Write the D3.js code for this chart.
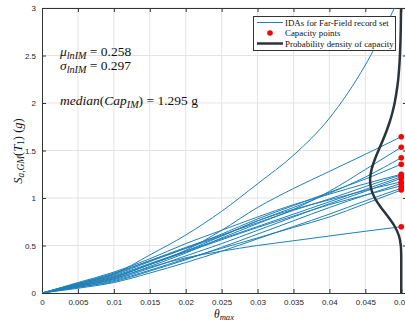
<!DOCTYPE html>
<html>
<head>
<meta charset="utf-8">
<script src="https://cdn.jsdelivr.net/npm/d3@7"></script>
<style>
  body { margin: 0; background: #fff; }
  svg { display: block; }
  .tick text { font-family: "Liberation Sans", Arial, sans-serif; font-size: 8px; fill: #262626; }
  .tex { font-family: "Liberation Serif", "Times New Roman", serif; fill: #111; }
</style>
</head>
<body>
<div id="chart"></div>
<script>
// theta_max grid shared by every IDA record
var thetaGrid = [0, 0.005, 0.01, 0.015, 0.02, 0.025, 0.03, 0.035, 0.04, 0.045, 0.05];

// Sa values of each IDA record at the theta grid
var idaRecords = [
  [0, 0.10, 0.20, 0.40, 0.61, 0.86, 1.15, 1.45, 1.84, 2.40, 3.15],
  [0, 0.08, 0.17, 0.30, 0.45, 0.66, 0.90, 1.10, 1.28, 1.46, 1.645],
  [0, 0.07, 0.15, 0.28, 0.42, 0.58, 0.73, 0.88, 1.07, 1.30, 1.534],
  [0, 0.08, 0.16, 0.30, 0.44, 0.60, 0.76, 0.90, 1.05, 1.22, 1.424],
  [0, 0.09, 0.19, 0.33, 0.47, 0.62, 0.78, 0.92, 1.06, 1.20, 1.355],
  [0, 0.11, 0.22, 0.36, 0.52, 0.66, 0.80, 0.93, 1.04, 1.15, 1.25],
  [0, 0.10, 0.20, 0.34, 0.48, 0.61, 0.74, 0.87, 0.99, 1.12, 1.242],
  [0, 0.09, 0.18, 0.31, 0.44, 0.57, 0.70, 0.83, 0.96, 1.09, 1.224],
  [0, 0.07, 0.14, 0.26, 0.39, 0.52, 0.66, 0.80, 0.94, 1.07, 1.207],
  [0, 0.10, 0.21, 0.34, 0.47, 0.60, 0.76, 0.88, 0.98, 1.08, 1.17],
  [0, 0.06, 0.12, 0.23, 0.35, 0.48, 0.62, 0.76, 0.90, 1.03, 1.154],
  [0, 0.08, 0.17, 0.30, 0.43, 0.56, 0.69, 0.81, 0.93, 1.03, 1.129],
  [0, 0.05, 0.11, 0.21, 0.32, 0.44, 0.57, 0.70, 0.83, 0.97, 1.102],
  [0, 0.06, 0.13, 0.24, 0.36, 0.47, 0.58, 0.69, 0.80, 0.94, 1.084],
  [0, 0.07, 0.15, 0.27, 0.37, 0.44, 0.50, 0.55, 0.60, 0.65, 0.698]
];

// capacity points (theta = 0.05)
var capTheta = 0.05;
var capacities = [1.645, 1.534, 1.424, 1.355, 1.25, 1.242, 1.224, 1.207, 1.17, 1.154, 1.129, 1.102, 1.084, 0.698];

// probability density of capacity, sampled along Sa
var densitySa  = [0, 0.3, 0.4, 0.5, 0.6, 0.7, 0.8, 0.9, 1.0, 1.1, 1.2, 1.3, 1.4, 1.5, 1.6, 1.7, 1.8, 1.9, 2.0, 2.2, 2.4, 2.6, 2.8, 3.0];
var densityVal = [0, 0, 0.0014, 0.016, 0.079, 0.225, 0.452, 0.706, 0.921, 1.051, 1.084, 1.033, 0.927, 0.792, 0.651, 0.519, 0.403, 0.307, 0.230, 0.124, 0.065, 0.033, 0.016, 0.008];

var xTicks = [0, 0.005, 0.01, 0.015, 0.02, 0.025, 0.03, 0.035, 0.04, 0.045, 0.05];
var yTicks = [0, 0.5, 1, 1.5, 2, 2.5, 3];

function main()
{
  var W = 405, H = 322;
  var left = 42, right = 407, top = 8, bottom = 293;

  var svg = d3.select("#chart").append("svg")
    .attr("width", W)
    .attr("height", H);

  var x = d3.scaleLinear().domain([0, 0.0508]).range([left, right]);
  var y = d3.scaleLinear().domain([0, 3]).range([bottom, top]);

  svg.append("defs").append("clipPath").attr("id", "plotclip")
    .append("rect")
    .attr("x", left).attr("y", top)
    .attr("width", right - left).attr("height", bottom - top);

  // grid
  var grid = svg.append("g");
  grid.selectAll(".gx").data(xTicks.slice(1)).enter().append("line")
    .attr("x1", d => x(d)).attr("x2", d => x(d))
    .attr("y1", top).attr("y2", bottom)
    .attr("stroke", "#e3e3e3").attr("stroke-width", 1);
  grid.selectAll(".gy").data(yTicks.slice(1)).enter().append("line")
    .attr("x1", left).attr("x2", right)
    .attr("y1", d => y(d)).attr("y2", d => y(d))
    .attr("stroke", "#e3e3e3").attr("stroke-width", 1);

  // axes (ticks inside, MATLAB style)
  var fmt = d => d === 0 ? "0" : String(d);
  svg.append("g")
    .attr("transform", "translate(0," + bottom + ")")
    .call(d3.axisBottom(x).tickValues(xTicks).tickFormat(fmt).tickSizeInner(-4).tickSizeOuter(0).tickPadding(6))
    .call(g => g.select(".domain").attr("stroke", "#333"))
    .call(g => g.selectAll(".tick line").attr("stroke", "#333"));
  svg.append("g")
    .attr("transform", "translate(0," + top + ")")
    .call(d3.axisTop(x).tickValues(xTicks).tickFormat("").tickSizeInner(-4).tickSizeOuter(0))
    .call(g => g.select(".domain").attr("stroke", "#333"))
    .call(g => g.selectAll(".tick line").attr("stroke", "#333"));
  svg.append("g")
    .attr("transform", "translate(" + left + ",0)")
    .call(d3.axisLeft(y).tickValues(yTicks).tickFormat(fmt).tickSizeInner(-4).tickSizeOuter(0).tickPadding(6))
    .call(g => g.select(".domain").attr("stroke", "#333"))
    .call(g => g.selectAll(".tick line").attr("stroke", "#333"));
  svg.append("g")
    .attr("transform", "translate(" + right + ",0)")
    .call(d3.axisRight(y).tickValues(yTicks).tickFormat("").tickSizeInner(-4).tickSizeOuter(0))
    .call(g => g.select(".domain").attr("stroke", "#333"))
    .call(g => g.selectAll(".tick line").attr("stroke", "#333"));

  // IDA curves
  var line = d3.line()
    .x((d, i) => x(thetaGrid[i]))
    .y(d => y(d))
    .curve(d3.curveMonotoneX);
  var plot = svg.append("g").attr("clip-path", "url(#plotclip)");
  plot.selectAll(".ida").data(idaRecords).enter().append("path")
    .attr("d", line)
    .attr("fill", "none")
    .attr("stroke", "#1f80b8")
    .attr("stroke-width", 1);

  // density curve
  var kScale = 0.004;
  var dens = densitySa.map((s, i) => [capTheta - kScale * densityVal[i], s]);
  plot.append("path")
    .attr("d", d3.line().x(d => x(d[0])).y(d => y(d[1])).curve(d3.curveCatmullRom)(dens))
    .attr("fill", "none")
    .attr("stroke", "#2b343a")
    .attr("stroke-width", 2.5);

  // capacity points
  svg.selectAll(".cap").data(capacities).enter().append("circle")
    .attr("cx", x(capTheta))
    .attr("cy", d => y(d))
    .attr("r", 2.8)
    .attr("fill", "#ff0000");

  // annotations
  function texLine(g, parts, xpos, ypos, size) {
    var t = g.append("text").attr("class", "tex").attr("x", xpos).attr("y", ypos).attr("font-size", size);
    parts.forEach(function(p) {
      var ts = t.append("tspan").text(p.t);
      if (p.i) ts.attr("font-style", "italic");
      if (p.sub) ts.attr("baseline-shift", "-25%").attr("font-size", size * 0.75);
    });
    return t;
  }
  texLine(svg, [{t: "\u03bc", i: 1}, {t: "lnIM", i: 1, sub: 1}, {t: " = 0.258"}], 60, 56, 13.5);
  texLine(svg, [{t: "\u03c3", i: 1}, {t: "lnIM", i: 1, sub: 1}, {t: " = 0.297"}], 60, 70, 13.5);
  texLine(svg, [{t: "median", i: 1}, {t: "("}, {t: "Cap", i: 1}, {t: "IM", i: 1, sub: 1}, {t: ") = 1.295 g"}], 60, 105, 13.5);

  // axis labels
  var xl = texLine(svg, [{t: "\u03b8", i: 1}, {t: "max", i: 1, sub: 1}], 224, 318, 11.5);
  xl.attr("text-anchor", "middle");
  var yl = svg.append("g").attr("transform", "translate(22,151) rotate(-90)");
  texLine(yl, [{t: "S", i: 1}, {t: "a,GM", i: 1, sub: 1}, {t: "("}, {t: "T", i: 1}, {t: "1", sub: 1}, {t: ") ("}, {t: "g", i: 1}, {t: ")"}], 0, 0, 12.5)
    .attr("text-anchor", "middle");

  // legend
  var lg = svg.append("g");
  lg.append("rect")
    .attr("x", 253.5).attr("y", 16.5).attr("width", 142).attr("height", 34)
    .attr("fill", "#fff").attr("stroke", "#333").attr("stroke-width", 1);
  var rows = [22.5, 33, 43.5];
  lg.append("line").attr("x1", 257).attr("x2", 283).attr("y1", rows[0]).attr("y2", rows[0])
    .attr("stroke", "#1f80b8").attr("stroke-width", 1);
  lg.append("circle").attr("cx", 270).attr("cy", rows[1]).attr("r", 2.8).attr("fill", "#ff0000");
  lg.append("line").attr("x1", 257).attr("x2", 283).attr("y1", rows[2]).attr("y2", rows[2])
    .attr("stroke", "#2b343a").attr("stroke-width", 2.5);
  var labels = ["IDAs for Far-Field record set", "Capacity points", "Probability density of capacity"];
  lg.selectAll(".lt").data(labels).enter().append("text")
    .attr("class", "tex")
    .attr("x", 285)
    .attr("y", (d, i) => rows[i] + 3)
    .attr("font-size", 8.9)
    .text(d => d);
}
main();
</script>
</body>
</html>
